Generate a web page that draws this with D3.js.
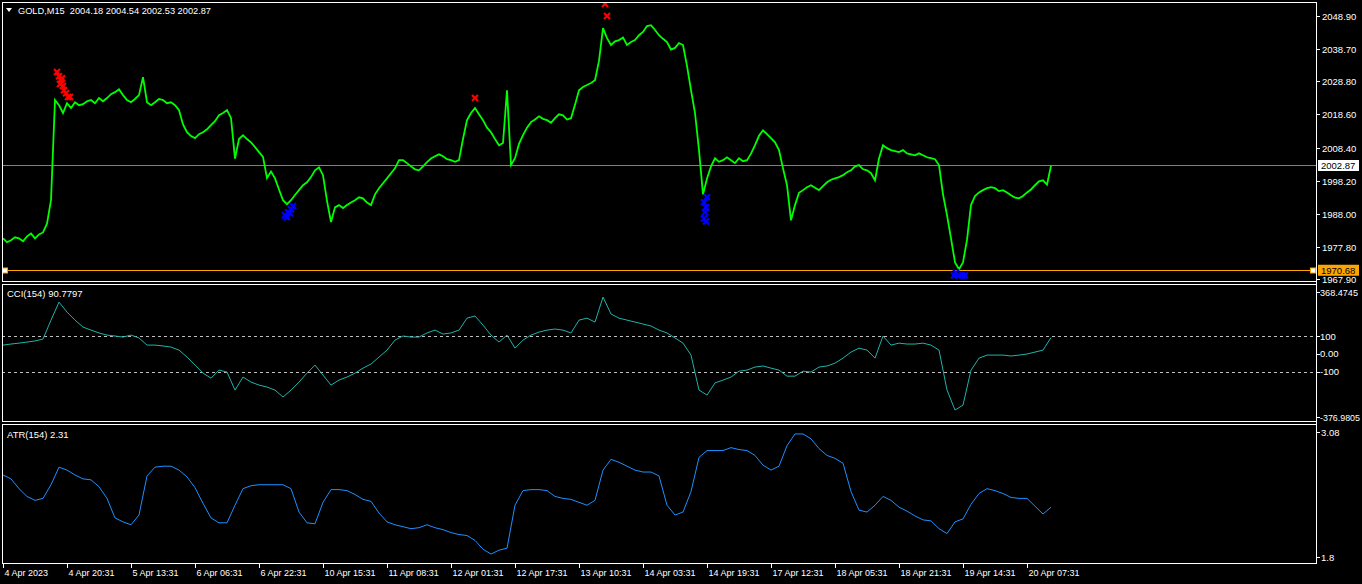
<!DOCTYPE html>
<html><head><meta charset="utf-8">
<script src="https://cdn.jsdelivr.net/npm/d3@7"></script>
<style>
body{margin:0;background:#000;overflow:hidden}
svg{display:block}
text{font-family:"Liberation Sans",Arial,sans-serif;font-size:9.5px;fill:#fff;white-space:pre}
.ax{font-size:9.5px}
.tm{font-size:9px}
</style>
</head><body><svg id="c" width="1362" height="584"></svg>
<script>
// ---------------- DATA ----------------
const symbolTitle = "GOLD,M15  2004.18 2004.54 2002.53 2002.87";
const cciTitle = "CCI(154) 90.7797";
const atrTitle = "ATR(154) 2.31";
const priceStep = 4;      // bars between price samples
const indStep = 8;        // bars between indicator samples
const timeLabels = ["4 Apr 2023","4 Apr 20:31","5 Apr 13:31","6 Apr 06:31","6 Apr 22:31","10 Apr 15:31","11 Apr 08:31","12 Apr 01:31","12 Apr 17:31","13 Apr 10:31","14 Apr 03:31","14 Apr 19:31","17 Apr 12:31","18 Apr 05:31","18 Apr 21:31","19 Apr 14:31","20 Apr 07:31"];
const barsPerLabel = 64;
const priceTicks = [2048.90,2038.70,2028.80,2018.60,2008.40,1998.20,1988.00,1977.80,1967.90];
const bidPrice = 2002.87;
const alertPrice = 1970.68;
const priceClose = [
1980.5,1979.3,1979.9,1980.8,1980.5,1979.6,1981.1,1982.0,1980.5,1981.7,
1982.3,1985.0,1992.2,2023.0,2021.4,2019.0,2022.0,2020.5,2022.3,2021.4,
2021.7,2022.6,2023.0,2022.0,2023.6,2022.6,2023.6,2024.8,2025.4,2026.3,
2024.5,2023.0,2022.3,2023.3,2024.5,2030.0,2022.3,2021.4,2022.3,2023.3,
2023.0,2022.0,2022.3,2021.4,2019.9,2015.5,2013.1,2011.9,2011.3,2012.5,
2013.1,2014.0,2015.3,2016.5,2018.3,2019.0,2019.9,2017.5,2005.0,2011.0,
2012.2,2011.0,2010.0,2008.5,2007.0,2005.5,1999.0,2001.0,1998.9,1995.5,
1992.2,1991.0,1992.2,1993.8,1995.3,1996.8,1997.7,1999.3,2001.4,2002.3,
1999.9,1992.0,1985.5,1990.0,1990.7,1989.8,1990.7,1991.5,1992.2,1993.1,
1992.8,1991.5,1990.7,1994.0,1995.9,1997.4,1998.9,2000.5,2002.0,2004.5,
2004.5,2003.6,2002.6,2001.7,2001.4,2002.6,2003.9,2005.0,2005.7,2006.3,
2005.7,2004.8,2004.5,2004.0,2004.5,2011.0,2016.8,2019.0,2020.5,2018.6,
2016.8,2014.5,2013.1,2011.0,2009.1,2009.8,2026.0,2003.0,2005.1,2009.5,
2012.2,2014.5,2016.2,2017.0,2018.0,2017.2,2016.8,2016.0,2017.4,2018.6,
2018.3,2017.0,2017.4,2021.5,2026.0,2027.0,2027.6,2028.2,2029.1,2035.0,
2045.1,2042.0,2039.9,2041.0,2041.4,2042.2,2039.9,2040.8,2041.4,2042.9,
2043.9,2045.7,2046.0,2044.5,2042.9,2041.8,2040.8,2038.5,2039.0,2040.5,
2039.9,2033.5,2026.0,2019.0,2007.6,1994.0,1998.9,2002.6,2005.1,2004.0,
2004.5,2005.4,2004.5,2003.6,2005.1,2004.2,2004.5,2006.5,2009.1,2012.0,
2013.7,2012.5,2011.3,2010.0,2007.6,2002.0,1996.8,1986.0,1990.7,1994.5,
1995.3,1996.2,1996.8,1996.0,1995.3,1996.5,1997.7,1998.5,1998.9,1999.3,
1999.9,2000.8,2001.4,2002.6,2003.0,2001.7,2001.4,2000.5,1998.3,2005.0,
2009.1,2008.2,2007.6,2007.3,2007.0,2007.6,2006.6,2006.3,2006.0,2006.6,
2006.0,2005.4,2005.1,2004.8,2003.0,1994.0,1987.6,1980.5,1973.1,1971.0,
1973.1,1980.0,1990.7,1993.5,1994.6,1995.3,1995.9,1996.2,1995.9,1995.0,
1995.3,1994.6,1993.7,1993.0,1992.8,1993.5,1994.6,1995.5,1996.8,1998.0,
1998.3,1997.0,2002.8];
const cciValues = [
49,55,60,66,72,83,189,290,234,189,
150,133,117,105,100,94,105,89,49,49,
44,38,21,-18,-63,-108,-136,-91,-102,-203,
-130,-158,-175,-186,-203,-242,-203,-158,-108,-63,
-119,-175,-147,-130,-108,-80,-57,-18,21,77,
100,94,94,117,133,111,117,133,200,212,
161,105,66,105,32,77,105,122,133,139,
133,117,189,200,178,318,223,200,189,178,
167,156,133,117,89,60,-7,-203,-231,-163,
-147,-130,-97,-91,-74,-68,-80,-91,-125,-125,
-97,-102,-74,-68,-52,-24,10,32,21,-24,
100,49,60,55,55,60,49,21,-203,-315,
-287,-91,-24,-7,-7,-7,-12,-7,-1,10,
21,91];
const cciLevels = [100,-100];
const cciLabels = ["368.4745","100","0.00","-100","-376.9805"];
const atrValues = [
2.64,2.60,2.50,2.42,2.38,2.40,2.54,2.72,2.69,2.64,
2.60,2.59,2.52,2.40,2.20,2.16,2.13,2.23,2.63,2.72,
2.73,2.73,2.69,2.62,2.51,2.35,2.20,2.15,2.15,2.33,
2.50,2.53,2.54,2.54,2.54,2.54,2.50,2.26,2.15,2.14,
2.36,2.49,2.49,2.48,2.44,2.39,2.37,2.25,2.16,2.13,
2.11,2.09,2.10,2.13,2.10,2.08,2.05,2.03,2.02,1.97,
1.88,1.83,1.87,1.89,2.33,2.48,2.49,2.49,2.48,2.42,
2.40,2.39,2.36,2.33,2.38,2.69,2.80,2.77,2.73,2.69,
2.67,2.67,2.63,2.33,2.23,2.26,2.47,2.82,2.89,2.89,
2.89,2.92,2.90,2.89,2.84,2.74,2.69,2.73,2.94,3.06,
3.06,3.01,2.91,2.84,2.81,2.76,2.47,2.28,2.26,2.33,
2.42,2.38,2.31,2.27,2.22,2.18,2.17,2.09,2.04,2.16,
2.19,2.34,2.45,2.50,2.48,2.45,2.41,2.40,2.40,2.32,
2.24,2.31];
const atrLabels = ["3.08","1.8"];
// signal markers: [bar index, price]
const sellSignals = [[54,2031.6],[56,2030.3],[58,2029.1],[59,2029.7],[57,2027.9],[60,2027.3],[61,2026.0],[63,2025.1],[65,2023.9],[67,2023.9],[472,2023.6],[602,2052.5],[604,2048.8]];
const buySignals = [[282,1987.6],[285,1988.5],[288,1989.4],[290,1990.4],[284,1987.0],[287,1988.2],[701,1991.6],[703,1990.0],[702,1988.5],[701,1986.6],[704,1993.1],[703,1985.7],[951,1969.1],[955,1969.1],[959,1969.1],[962,1969.1],[953,1970.0]];

// ---------------- LAYOUT ----------------
const L = 2, R = 1316;
const P = {main:{t:2,b:281}, cci:{t:284,b:421}, atr:{t:424,b:563}};
const svg = d3.select("#c");
svg.append("rect").attr("width",1362).attr("height",584).attr("fill","#000");

const nBars = (priceClose.length-1)*priceStep;
const x = d3.scaleLinear().domain([0,nBars]).range([3,3+nBars]);
const yP = d3.scaleLinear().domain([1967.9,2048.9]).range([279.3,15.7]);
const yC = d3.scaleLinear().domain([-100,100]).range([371.7,336]);
const yA = d3.scaleLinear().domain([1.8,3.08]).range([557,432]);

const defs = svg.append("defs");
Object.entries(P).forEach(([k,p])=>{
  defs.append("clipPath").attr("id","clip-"+k).append("rect")
    .attr("x",L+1).attr("y",p.t+1).attr("width",R-L-1).attr("height",p.b-p.t-1);
});
Object.values(P).forEach(p=>{
  svg.append("rect").attr("x",L+0.5).attr("y",p.t+0.5).attr("width",R-L).attr("height",p.b-p.t)
    .attr("fill","none").attr("stroke","#fff").attr("stroke-width",1);
});

// ---------------- MAIN PANEL ----------------
const gM = svg.append("g").attr("clip-path","url(#clip-main)");
const yb = Math.round(yP(bidPrice))+0.5, yo = Math.round(yP(alertPrice))+0.5;
gM.append("line").attr("x1",L).attr("x2",R).attr("y1",yb).attr("y2",yb).attr("stroke","#808080");
gM.append("line").attr("x1",L).attr("x2",R).attr("y1",yo).attr("y2",yo).attr("stroke","#ffa500");
[L+3,R-3].forEach(cx=>{
  gM.append("rect").attr("x",cx-2.5).attr("y",yo-2.5).attr("width",5).attr("height",5)
    .attr("fill","#fff").attr("stroke","#ffa500").attr("stroke-width",1);
});
const lineP = d3.line().x((d,i)=>x(i*priceStep)).y(d=>yP(d));
gM.append("path").datum(priceClose).attr("d",lineP).attr("fill","none")
  .attr("stroke","#00ff00").attr("stroke-width",1.8);

function cross(g,data,yS,color){
  g.selectAll(null).data(data).enter().append("path")
    .attr("d",d=>{const cx=x(d[0]),cy=yS(d[1]),s=3;return `M${cx-s},${cy-s}L${cx+s},${cy+s}M${cx-s},${cy+s}L${cx+s},${cy-s}`;})
    .attr("stroke",color).attr("stroke-width",2.2).attr("fill","none");
}
cross(gM,sellSignals,yP,"#ff0000");
cross(gM,buySignals,yP,"#0000ff");

svg.append("path").attr("d","M6,8L12,8L9,12Z").attr("fill","#fff");
svg.append("text").attr("x",18).attr("y",14).attr("textLength",193).attr("lengthAdjust","spacingAndGlyphs").text(symbolTitle);

const axisX = R;
svg.append("line").attr("x1",axisX+0.5).attr("x2",axisX+0.5).attr("y1",P.main.t).attr("y2",P.atr.b).attr("stroke","#fff");
priceTicks.forEach(v=>{
  const yy=Math.round(yP(v))+0.5;
  svg.append("line").attr("x1",axisX).attr("x2",axisX+4).attr("y1",yy).attr("y2",yy).attr("stroke","#fff");
  svg.append("text").attr("class","ax").attr("x",axisX+6).attr("y",yy+3.5).text(v.toFixed(2));
});
[[bidPrice,"#fff"],[alertPrice,"#ffa500"]].forEach(([v,c])=>{
  const yy=yP(v);
  svg.append("rect").attr("x",axisX+2).attr("y",yy-5.5).attr("width",41).attr("height",11).attr("fill",c);
  svg.append("text").attr("class","ax").attr("x",axisX+5).attr("y",yy+3.5).style("fill","#000").text(v.toFixed(2));
});

// ---------------- CCI PANEL ----------------
const gC = svg.append("g").attr("clip-path","url(#clip-cci)");
cciLevels.forEach(v=>{
  const yy=Math.round(yC(v))+0.5;
  gC.append("line").attr("x1",L).attr("x2",R).attr("y1",yy).attr("y2",yy)
    .attr("stroke","#c0c0c0").attr("stroke-dasharray","3,3");
});
const lineC = d3.line().x((d,i)=>x(i*indStep)).y(d=>yC(d));
gC.append("path").datum(cciValues).attr("d",lineC).attr("fill","none").attr("stroke","#20b2aa").attr("stroke-width",1);
svg.append("text").attr("x",7).attr("y",P.cci.t+13).text(cciTitle);
cciLabels.forEach(s=>{
  let yy = yC(+s);
  yy = Math.max(P.cci.t+8, Math.min(P.cci.b-4, yy));
  svg.append("line").attr("x1",axisX).attr("x2",axisX+4).attr("y1",Math.round(yy)+0.5).attr("y2",Math.round(yy)+0.5).attr("stroke","#fff");
  const t = svg.append("text").attr("class","ax").attr("x",axisX+4).attr("y",yy+3.5).text(s);
  if (s.length>6) t.attr("textLength",s.length>8?40:38).attr("lengthAdjust","spacingAndGlyphs");
});

// ---------------- ATR PANEL ----------------
const gA = svg.append("g").attr("clip-path","url(#clip-atr)");
const lineA = d3.line().x((d,i)=>x(i*indStep)).y(d=>yA(d));
gA.append("path").datum(atrValues).attr("d",lineA).attr("fill","none").attr("stroke","#1e90ff").attr("stroke-width",1);
svg.append("text").attr("x",7).attr("y",P.atr.t+14).text(atrTitle);
atrLabels.forEach(s=>{
  const yy=yA(+s);
  svg.append("line").attr("x1",axisX).attr("x2",axisX+4).attr("y1",Math.round(yy)+0.5).attr("y2",Math.round(yy)+0.5).attr("stroke","#fff");
  svg.append("text").attr("class","ax").attr("x",axisX+5).attr("y",yy+4).text(s);
});

// ---------------- TIME AXIS ----------------
const xb = P.atr.b;
timeLabels.forEach((t,i)=>{
  const xx = Math.round(x(i*barsPerLabel))+0.5;
  svg.append("line").attr("x1",xx).attr("x2",xx).attr("y1",xb).attr("y2",xb+5).attr("stroke","#fff");
  svg.append("text").attr("class","tm").attr("x",xx+1).attr("y",xb+13).text(t);
});
</script>
</body></html>
